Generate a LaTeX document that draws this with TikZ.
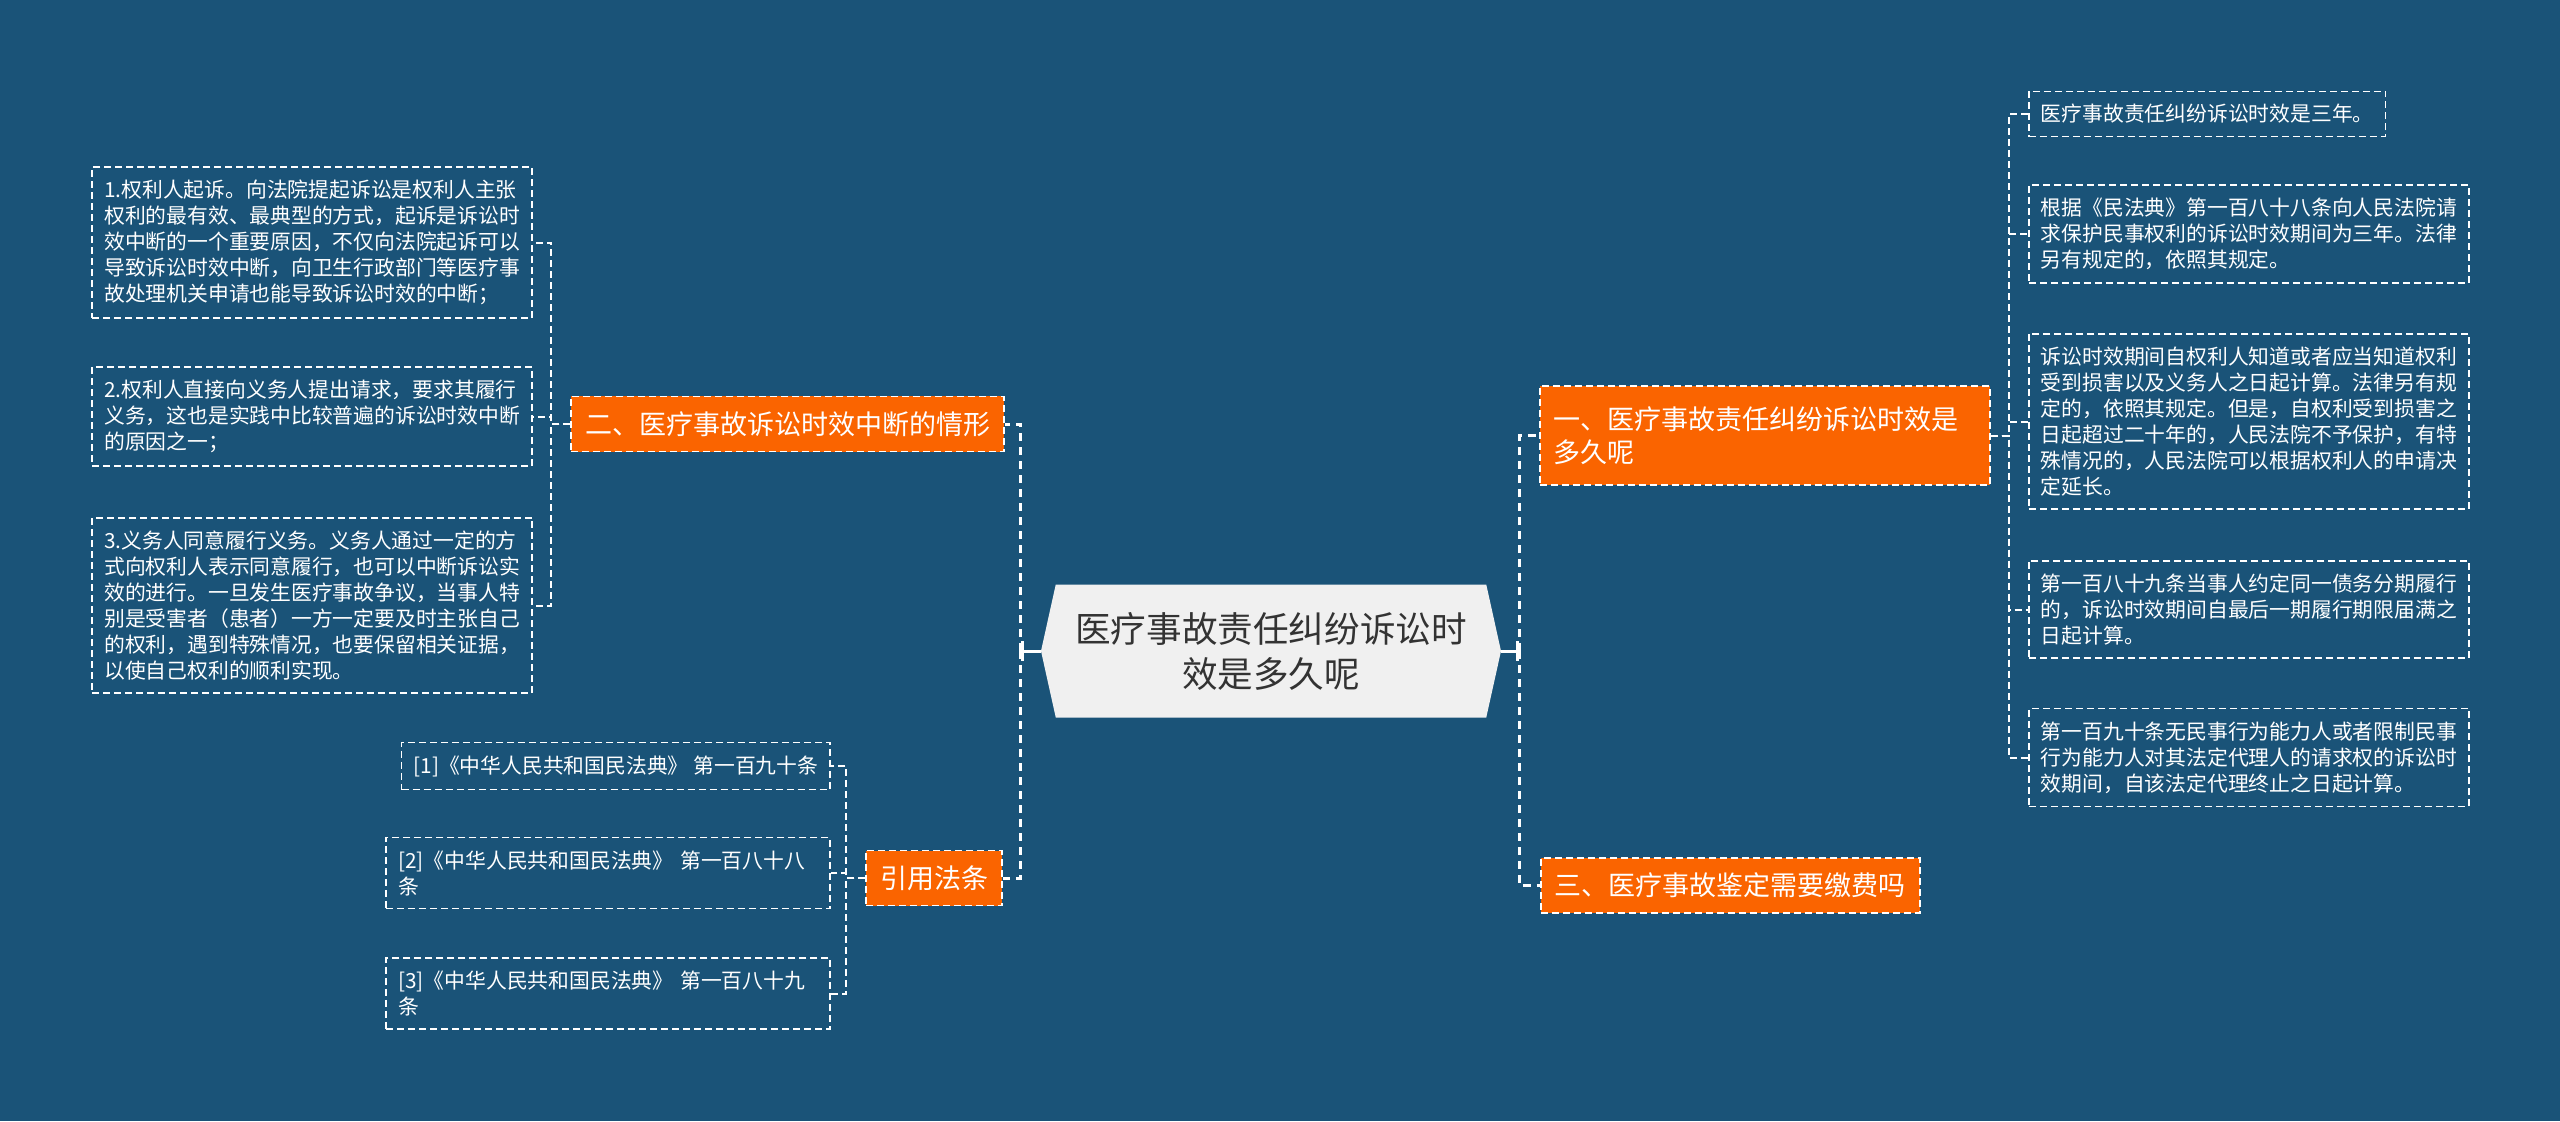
\documentclass[tikz,border=0pt]{standalone}
\usepackage{fontspec}
\setmainfont{Noto Sans CJK SC}
\usepackage{tikz}
\usetikzlibrary{
    shapes,
    shapes.symbols,
    arrows,
    calc,
}
\definecolor{bgblue}{HTML}{1A5378}
\definecolor{branchorange}{HTML}{FA6400}
\definecolor{rootgrey}{HTML}{F0F0F0}
\definecolor{roottext}{HTML}{333333}

\begin{document}
\begin{tikzpicture}[
    x=0.5pt, y=-0.5pt,
    topic/.style={signal, signal to=west and east, signal pointer angle=155, fill=rootgrey, text=roottext, align=center, minimum width=230pt, minimum height=66.5pt, font=\fontsize{17.8pt}{22.5pt}\selectfont},
    part/.style={draw=white, fill=branchorange, text=white, line width=0.8pt, dash pattern=on 3.5pt off 2pt, align=left, inner xsep=7pt, inner ysep=7.5pt, font=\fontsize{13.5pt}{16.5pt}\selectfont},
    leaf/.style={draw=white, text=white, line width=0.8pt, dash pattern=on 3.5pt off 2pt, align=left, inner xsep=6pt, inner ysep=6.5pt, font=\fontsize{10.4pt}{13pt}\selectfont},
    trunk/.style={draw=white, line width=1.5pt, dash pattern=on 4pt off 3pt},
    twig/.style={draw=white, line width=1pt, dash pattern=on 3.5pt off 2pt},
    stub/.style={draw=white, line width=1.5pt, -|},
    ]

\fill[bgblue] (0,0) rectangle (2560,1121);
\useasboundingbox (0,0) rectangle (2560,1121);

\node[topic] at (1271,651) (medical)
    {医疗事故责任纠纷诉讼时\\效是多久呢};

\node[part, anchor=west, text width=211pt, minimum height=49.5pt] at (1539,435.5) (part1)
    {一、医疗事故责任纠纷诉讼时效是\\多久呢};
\node[part, anchor=east] at (1005,424) (part2)
    {二、医疗事故诉讼时效中断的情形};
\node[part, anchor=west] at (1540,885.5) (part3)
    {三、医疗事故鉴定需要缴费吗};
\node[part, anchor=east] at (1003,878) (cite)
    {引用法条};

\node[leaf, anchor=east] at (533,242.5) (break1)
    {1.权利人起诉。向法院提起诉讼是权利人主张\\权利的最有效、最典型的方式，起诉是诉讼时\\效中断的一个重要原因，不仅向法院起诉可以\\导致诉讼时效中断，向卫生行政部门等医疗事\\故处理机关申请也能导致诉讼时效的中断；};
\node[leaf, anchor=east] at (533,416.5) (break2)
    {2.权利人直接向义务人提出请求，要求其履行\\义务，这也是实践中比较普遍的诉讼时效中断\\的原因之一；};
\node[leaf, anchor=east] at (533,605.5) (break3)
    {3.义务人同意履行义务。义务人通过一定的方\\式向权利人表示同意履行，也可以中断诉讼实\\效的进行。一旦发生医疗事故争议，当事人特\\别是受害者（患者）一方一定要及时主张自己\\的权利，遇到特殊情况，也要保留相关证据，\\以使自己权利的顺利实现。};

\node[leaf, anchor=east] at (831,766) (law1)
    {[1]《中华人民共和国民法典》 第一百九十条};
\node[leaf, anchor=east, text width=210pt] at (831,873) (law2)
    {[2]《中华人民共和国民法典》 第一百八十八\\条};
\node[leaf, anchor=east, text width=210pt] at (831,993.5) (law3)
    {[3]《中华人民共和国民法典》 第一百八十九\\条};

\node[leaf, anchor=west] at (2028,114) (term1)
    {医疗事故责任纠纷诉讼时效是三年。};
\node[leaf, anchor=west] at (2028,234) (term2)
    {根据《民法典》第一百八十八条向人民法院请\\求保护民事权利的诉讼时效期间为三年。法律\\另有规定的，依照其规定。};
\node[leaf, anchor=west] at (2028,421.5) (term3)
    {诉讼时效期间自权利人知道或者应当知道权利\\受到损害以及义务人之日起计算。法律另有规\\定的，依照其规定。但是，自权利受到损害之\\日起超过二十年的，人民法院不予保护，有特\\殊情况的，人民法院可以根据权利人的申请决\\定延长。};
\node[leaf, anchor=west] at (2028,609.5) (term4)
    {第一百八十九条当事人约定同一债务分期履行\\的，诉讼时效期间自最后一期履行期限届满之\\日起计算。};
\node[leaf, anchor=west] at (2028,757.5) (term5)
    {第一百九十条无民事行为能力人或者限制民事\\行为能力人对其法定代理人的请求权的诉讼时\\效期间，自该法定代理终止之日起计算。};

\draw[stub] (medical.west) -- ++(-20,0) coordinate (lhub);
\draw[stub] (medical.east) -- ++(18,0) coordinate (rhub);
\draw[trunk] (lhub) |- (part2.east);
\draw[trunk] (lhub) |- (cite.east);
\draw[trunk] (rhub) |- (part1.west);
\draw[trunk] (rhub) |- (part3.west);

\draw[twig] (part2.west) -- ++(-19,0) |- (break1.east);
\draw[twig] (part2.west) -- ++(-19,0) |- (break2.east);
\draw[twig] (part2.west) -- ++(-19,0) |- (break3.east);

\draw[twig] (cite.west) -- ++(-19,0) |- (law1.east);
\draw[twig] (cite.west) -- ++(-19,0) |- (law2.east);
\draw[twig] (cite.west) -- ++(-19,0) |- (law3.east);

\draw[twig] (part1.east) -- ++(18,0) |- (term1.west);
\draw[twig] (part1.east) -- ++(18,0) |- (term2.west);
\draw[twig] (part1.east) -- ++(18,0) |- (term3.west);
\draw[twig] (part1.east) -- ++(18,0) |- (term4.west);
\draw[twig] (part1.east) -- ++(18,0) |- (term5.west);

\end{tikzpicture}
\end{document}
